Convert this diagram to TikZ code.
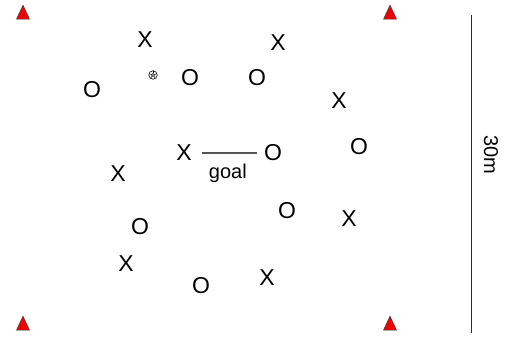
\documentclass[tikz,border=0pt]{standalone}
\usepackage{fontspec}
\setmainfont{Liberation Sans}
\usepackage{xcolor}
\usepackage{tikz}
\usetikzlibrary{arrows.meta, positioning, calc, shapes.geometric}
\definecolor{conered}{HTML}{F00000}
\definecolor{goalline}{HTML}{555555}
\definecolor{scaleline}{HTML}{3A2626}

\begin{document}
\begin{tikzpicture}[
    x=1pt, y=-1pt,
    player/.style={font=\fontsize{23}{27}\selectfont, inner sep=2pt},
    cone/.style={isosceles triangle, isosceles triangle apex angle=50, shape border rotate=90, fill=conered, draw=black!75, line width=0.5pt, inner sep=0pt, minimum height=14pt},
    ball/.style={circle, draw, line width=0.6pt, inner sep=0pt, minimum size=8.5pt,
        path picture={
            \draw[line width=0.5pt] (path picture bounding box.center) circle (1.5pt);
            \foreach \a in {90,162,234,306,378}
                \draw[line width=0.5pt] (path picture bounding box.center) ++(\a:1.5pt) -- ++(\a:3pt);
        }},
    label/.style={font=\fontsize{20}{24}\selectfont},
]
    \useasboundingbox (0,0) rectangle (524,339);

    % Cones
    \node[cone] (coneTL) at (23,15) {};
    \node[cone] (coneTR) at (390,15) {};
    \node[cone] (coneBL) at (23,326) {};
    \node[cone] (coneBR) at (390,326) {};

    % Attackers
    \node[player] (att1) at (145,40) {X};
    \node[player] (att2) at (278,43) {X};
    \node[player] (att3) at (339,101) {X};
    \node[player] (att4) at (184,153) {X};
    \node[player] (att5) at (118,174) {X};
    \node[player] (att6) at (349,219) {X};
    \node[player] (att7) at (126,264) {X};
    \node[player] (att8) at (267,278) {X};

    % Defenders
    \node[player] (def1) at (92,90) {O};
    \node[player] (def2) at (190,78) {O};
    \node[player] (def3) at (257,78) {O};
    \node[player] (def4) at (273,153) {O};
    \node[player] (def5) at (359,147) {O};
    \node[player] (def6) at (287,211) {O};
    \node[player] (def7) at (140,227) {O};
    \node[player] (def8) at (201,286) {O};

    % Ball
    \node[ball] (ball) at (153,75) {};

    % Goal
    \draw[goalline, line width=1.2pt, shorten <=8pt, shorten >=5pt] (att4.east) -- node[label, black, below=7pt] (goal) {goal} (def4.west);

    % Scale
    \coordinate (scaletop) at (471,15);
    \coordinate (scalebot) at (471,333);
    \draw[scaleline, line width=1pt] (scaletop) -- (scalebot);
    \node[label, rotate=-90] (scalelabel) at (491,155) {30m};
\end{tikzpicture}
\end{document}
